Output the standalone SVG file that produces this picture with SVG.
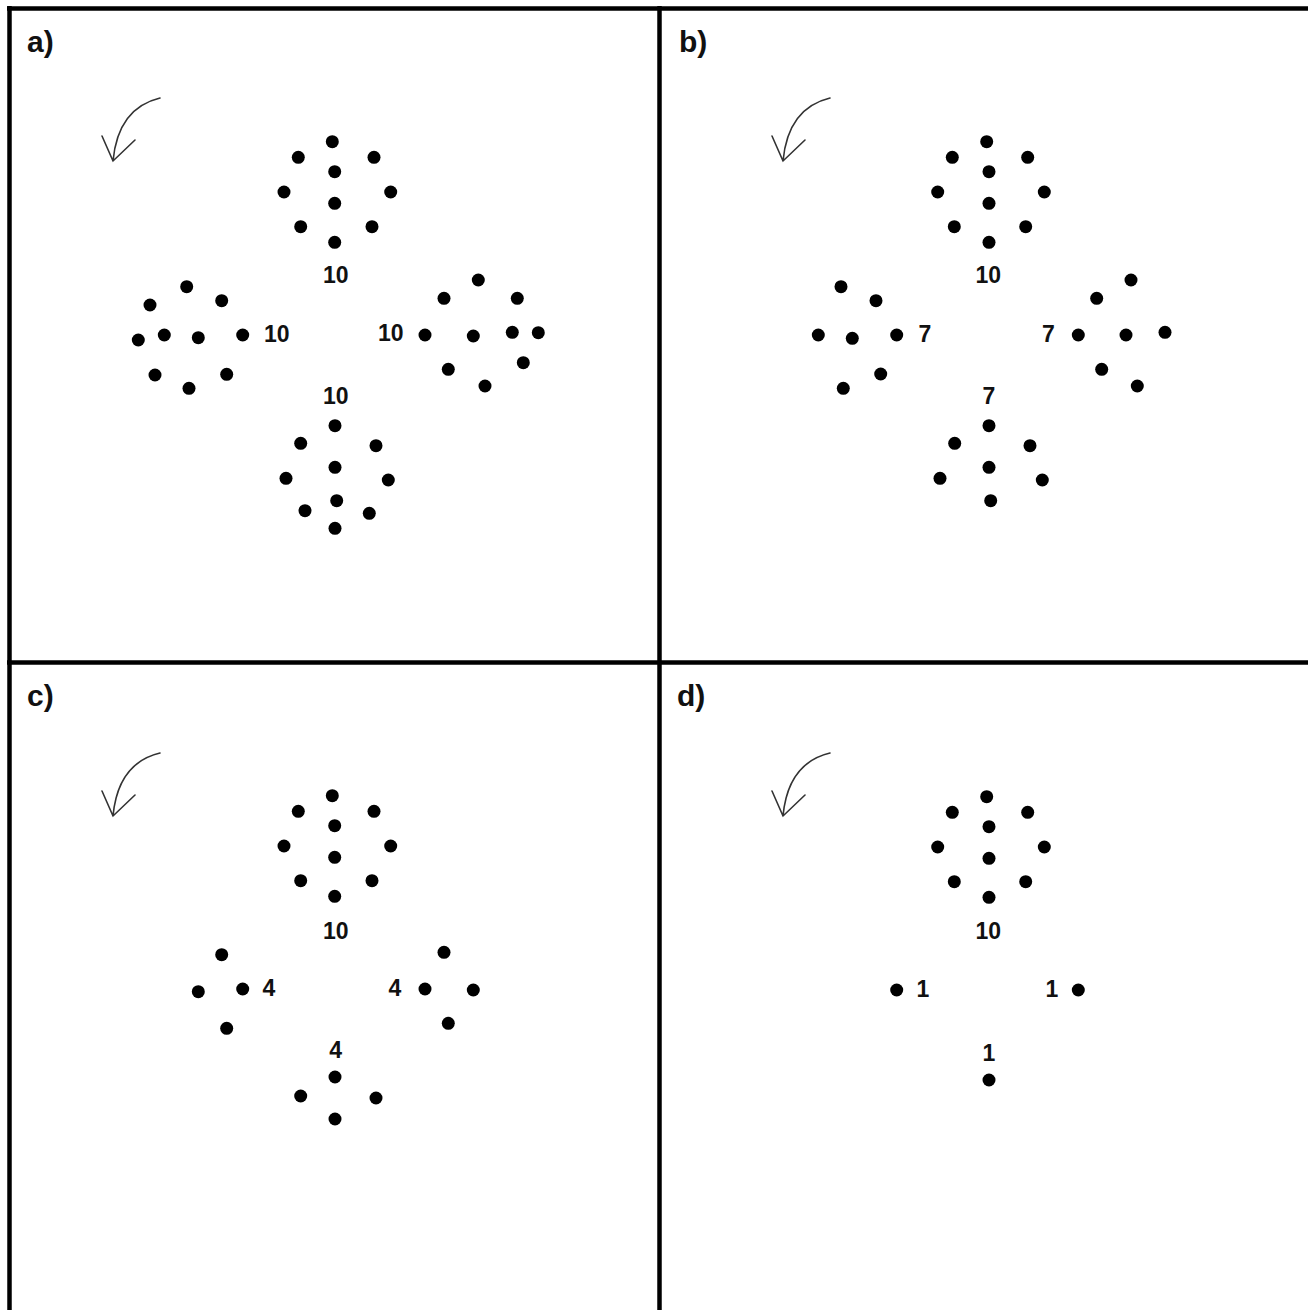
<svg xmlns="http://www.w3.org/2000/svg" width="1308" height="1310" viewBox="0 0 1308 1310">
<style>
.dot{fill:#000}
.num{font-family:"Liberation Sans",Arial,sans-serif;font-weight:bold;font-size:23px;fill:#111;text-anchor:middle}
.lbl{font-family:"Liberation Sans",Arial,sans-serif;font-weight:bold;font-size:30px;fill:#111}
.frame{stroke:#000;stroke-width:4.5;fill:none}
.arr{stroke:#333;stroke-width:1.6;fill:none;stroke-linecap:round}
</style>
<rect width="1308" height="1310" fill="#fff"/>
<g id="frame" class="frame">
<line x1="7" y1="8.5" x2="1308" y2="8.5"/>
<line x1="9.5" y1="6" x2="9.5" y2="1310"/>
<line x1="659.5" y1="6" x2="659.5" y2="1310"/>
<line x1="7" y1="662.5" x2="1308" y2="662.5"/>
</g>
<g id="labels">
<text class="lbl" x="27" y="52">a)</text>
<text class="lbl" x="679" y="52">b)</text>
<text class="lbl" x="27" y="706">c)</text>
<text class="lbl" x="677" y="706">d)</text>
</g>
<g id="connectors" class="arr">
<path d="M160,98 Q118,108 113,161 M102,136 L113,161 L135,140"/>
<path d="M830,98 Q788,108 783,161 M772,136 L783,161 L805,140"/>
<path d="M160,753 Q118,763 113,816 M102,791 L113,816 L135,795"/>
<path d="M830,753 Q788,763 783,816 M772,791 L783,816 L805,795"/>
</g>
<g id="panel-a">
<g id="a-top">
<circle class="dot" r="6.5" cx="332.3" cy="141.7"/><circle class="dot" r="6.5" cx="298.3" cy="157.3"/><circle class="dot" r="6.5" cx="374" cy="157.3"/><circle class="dot" r="6.5" cx="334.7" cy="171.7"/><circle class="dot" r="6.5" cx="284" cy="192"/><circle class="dot" r="6.5" cx="390.7" cy="192"/><circle class="dot" r="6.5" cx="334.7" cy="203.3"/><circle class="dot" r="6.5" cx="300.7" cy="226.7"/><circle class="dot" r="6.5" cx="372" cy="226.7"/><circle class="dot" r="6.5" cx="334.7" cy="242.3"/>
<text class="num" x="335.7" y="283">10</text>
</g>
<g id="a-left">
<circle class="dot" r="6.5" cx="186.7" cy="286.7"/><circle class="dot" r="6.5" cx="150" cy="305"/><circle class="dot" r="6.5" cx="221.7" cy="300.7"/><circle class="dot" r="6.5" cx="138.3" cy="340"/><circle class="dot" r="6.5" cx="164.3" cy="335"/><circle class="dot" r="6.5" cx="198.3" cy="337.7"/><circle class="dot" r="6.5" cx="242.7" cy="335"/><circle class="dot" r="6.5" cx="155" cy="375"/><circle class="dot" r="6.5" cx="226.7" cy="374.3"/><circle class="dot" r="6.5" cx="189" cy="388.3"/>
<text class="num" x="276.7" y="341.7">10</text>
</g>
<g id="a-right">
<circle class="dot" r="6.5" cx="425" cy="335"/><circle class="dot" r="6.5" cx="444" cy="298.3"/><circle class="dot" r="6.5" cx="478.3" cy="280"/><circle class="dot" r="6.5" cx="517.3" cy="298.3"/><circle class="dot" r="6.5" cx="473.3" cy="336"/><circle class="dot" r="6.5" cx="512.3" cy="332.3"/><circle class="dot" r="6.5" cx="538.3" cy="332.7"/><circle class="dot" r="6.5" cx="448.3" cy="369.3"/><circle class="dot" r="6.5" cx="523.3" cy="362.7"/><circle class="dot" r="6.5" cx="485" cy="386"/>
<text class="num" x="390.7" y="341">10</text>
</g>
<g id="a-bottom">
<circle class="dot" r="6.5" cx="335" cy="425.7"/><circle class="dot" r="6.5" cx="300.7" cy="443.3"/><circle class="dot" r="6.5" cx="376" cy="445.7"/><circle class="dot" r="6.5" cx="335" cy="467.3"/><circle class="dot" r="6.5" cx="286" cy="478.3"/><circle class="dot" r="6.5" cx="388.3" cy="480"/><circle class="dot" r="6.5" cx="336.7" cy="500.7"/><circle class="dot" r="6.5" cx="305" cy="510.7"/><circle class="dot" r="6.5" cx="369.3" cy="513.3"/><circle class="dot" r="6.5" cx="335" cy="528.3"/>
<text class="num" x="335.7" y="404">10</text>
</g>
</g>
<g id="panel-b">
<g id="b-top">
<circle class="dot" r="6.5" cx="986.7" cy="141.7"/><circle class="dot" r="6.5" cx="952.3" cy="157.3"/><circle class="dot" r="6.5" cx="1027.7" cy="157.3"/><circle class="dot" r="6.5" cx="989" cy="171.7"/><circle class="dot" r="6.5" cx="937.7" cy="192"/><circle class="dot" r="6.5" cx="1044.3" cy="192"/><circle class="dot" r="6.5" cx="989" cy="203.3"/><circle class="dot" r="6.5" cx="954.3" cy="226.7"/><circle class="dot" r="6.5" cx="1025.7" cy="226.7"/><circle class="dot" r="6.5" cx="989" cy="242.3"/>
<text class="num" x="988.3" y="283">10</text>
</g>
<g id="b-left">
<circle class="dot" r="6.5" cx="841" cy="286.7"/><circle class="dot" r="6.5" cx="876" cy="300.7"/><circle class="dot" r="6.5" cx="818.3" cy="335"/><circle class="dot" r="6.5" cx="852.3" cy="338.3"/><circle class="dot" r="6.5" cx="896.7" cy="335"/><circle class="dot" r="6.5" cx="880.7" cy="374"/><circle class="dot" r="6.5" cx="843.3" cy="388.3"/>
<text class="num" x="925" y="341.7">7</text>
</g>
<g id="b-right">
<circle class="dot" r="6.5" cx="1078.3" cy="335"/><circle class="dot" r="6.5" cx="1096.7" cy="298.3"/><circle class="dot" r="6.5" cx="1131" cy="280"/><circle class="dot" r="6.5" cx="1126" cy="335"/><circle class="dot" r="6.5" cx="1165" cy="332.3"/><circle class="dot" r="6.5" cx="1101.7" cy="369.3"/><circle class="dot" r="6.5" cx="1137.3" cy="386"/>
<text class="num" x="1048.3" y="341.7">7</text>
</g>
<g id="b-bottom">
<circle class="dot" r="6.5" cx="989" cy="425.7"/><circle class="dot" r="6.5" cx="954.7" cy="443.3"/><circle class="dot" r="6.5" cx="1030" cy="445.7"/><circle class="dot" r="6.5" cx="989" cy="467.3"/><circle class="dot" r="6.5" cx="940" cy="478.3"/><circle class="dot" r="6.5" cx="1042.3" cy="480"/><circle class="dot" r="6.5" cx="990.7" cy="500.7"/>
<text class="num" x="989" y="404">7</text>
</g>
</g>
<g id="panel-c">
<g id="c-top">
<circle class="dot" r="6.5" cx="332.3" cy="795.7"/><circle class="dot" r="6.5" cx="298.3" cy="811.3"/><circle class="dot" r="6.5" cx="374" cy="811.3"/><circle class="dot" r="6.5" cx="334.7" cy="825.7"/><circle class="dot" r="6.5" cx="284" cy="846"/><circle class="dot" r="6.5" cx="390.7" cy="846"/><circle class="dot" r="6.5" cx="334.7" cy="857.3"/><circle class="dot" r="6.5" cx="300.7" cy="880.7"/><circle class="dot" r="6.5" cx="372" cy="880.7"/><circle class="dot" r="6.5" cx="334.7" cy="896.3"/>
<text class="num" x="335.7" y="939">10</text>
</g>
<g id="c-left">
<circle class="dot" r="6.5" cx="221.7" cy="954.7"/><circle class="dot" r="6.5" cx="198.3" cy="991.7"/><circle class="dot" r="6.5" cx="242.7" cy="989"/><circle class="dot" r="6.5" cx="226.7" cy="1028.3"/>
<text class="num" x="269" y="996">4</text>
</g>
<g id="c-right">
<circle class="dot" r="6.5" cx="425" cy="989"/><circle class="dot" r="6.5" cx="444" cy="952.3"/><circle class="dot" r="6.5" cx="473.3" cy="990"/><circle class="dot" r="6.5" cx="448.3" cy="1023.3"/>
<text class="num" x="395" y="996">4</text>
</g>
<g id="c-bottom">
<circle class="dot" r="6.5" cx="335" cy="1077"/><circle class="dot" r="6.5" cx="300.7" cy="1096"/><circle class="dot" r="6.5" cx="376" cy="1098"/><circle class="dot" r="6.5" cx="335" cy="1119"/>
<text class="num" x="335.7" y="1058">4</text>
</g>
</g>
<g id="panel-d">
<g id="d-top">
<circle class="dot" r="6.5" cx="986.7" cy="796.7"/><circle class="dot" r="6.5" cx="952.3" cy="812.3"/><circle class="dot" r="6.5" cx="1027.7" cy="812.3"/><circle class="dot" r="6.5" cx="989" cy="826.7"/><circle class="dot" r="6.5" cx="937.7" cy="847"/><circle class="dot" r="6.5" cx="1044.3" cy="847"/><circle class="dot" r="6.5" cx="989" cy="858.3"/><circle class="dot" r="6.5" cx="954.3" cy="881.7"/><circle class="dot" r="6.5" cx="1025.7" cy="881.7"/><circle class="dot" r="6.5" cx="989" cy="897.3"/>
<text class="num" x="988.3" y="939">10</text>
</g>
<g id="d-left">
<circle class="dot" r="6.5" cx="896.7" cy="990"/>
<text class="num" x="923" y="997">1</text>
</g>
<g id="d-right">
<circle class="dot" r="6.5" cx="1078.3" cy="990"/>
<text class="num" x="1052" y="997">1</text>
</g>
<g id="d-bottom">
<circle class="dot" r="6.5" cx="989" cy="1080"/>
<text class="num" x="989" y="1061">1</text>
</g>
</g>
</svg>
